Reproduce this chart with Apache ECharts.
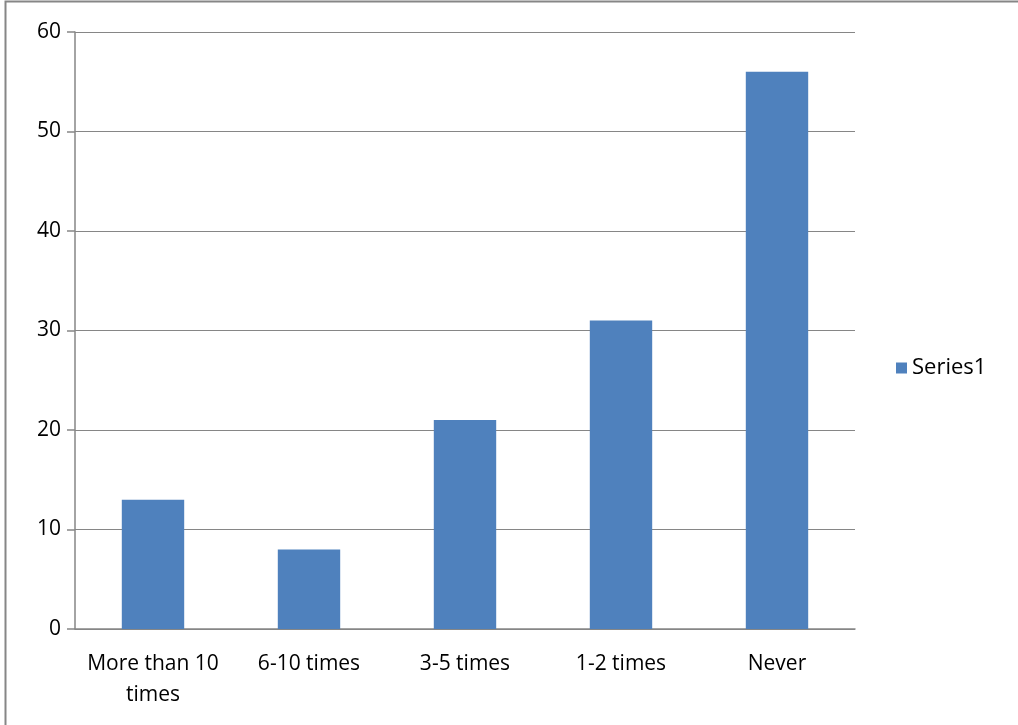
<!DOCTYPE html>
<html><head><meta charset="utf-8">
<style>html,body{margin:0;padding:0;background:#fff}#c{width:1018px;height:725px}</style>
<script src="https://cdn.jsdelivr.net/npm/echarts@6/dist/echarts.min.js"></script>
</head><body><div id="c"></div>
<script>
const categories = ['More than 10\ntimes', '6-10 times', '3-5 times', '1-2 times', 'Never'];
const series1 = [13, 8, 21, 31, 56];
const seriesName = 'Series1';
const chart = echarts.init(document.getElementById('c'));
const font = 'Open Sans, Liberation Sans, sans-serif';
chart.setOption({
  animation: false,
  graphic: [{type: 'rect', shape: {x: 5.5, y: 1.5, width: 1030, height: 740}, style: {fill: 'none', stroke: '#868686', lineWidth: 2}}],
  legend: {left: 891, top: 352, orient: 'vertical', icon: 'rect', itemWidth: 11, itemHeight: 11, itemGap: 6,
    textStyle: {fontFamily: font, fontSize: 22, color: '#000'}, data: [seriesName]},
  grid: {left: 75, right: 163, top: 32, bottom: 96},
  xAxis: {type: 'category', data: categories,
    axisLine: {lineStyle: {color: '#868686', width: 1.5}},
    axisTick: {length: 7, lineStyle: {color: '#868686', width: 1.5}},
    axisLabel: {interval: 0, fontFamily: font, fontSize: 21, color: '#000', margin: 20, lineHeight: 31}},
  yAxis: {type: 'value', min: 0, max: 60, interval: 10,
    axisLine: {show: true, lineStyle: {color: '#868686', width: 1.5}},
    axisTick: {show: true, length: 8, lineStyle: {color: '#868686', width: 1.5}},
    splitLine: {lineStyle: {color: '#868686', width: 1.2}},
    axisLabel: {fontFamily: font, fontSize: 21, color: '#000', margin: 14}},
  series: [{name: seriesName, type: 'bar', data: series1, barWidth: '40%', itemStyle: {color: '#4f81bd'}}]
});
</script></body></html>
